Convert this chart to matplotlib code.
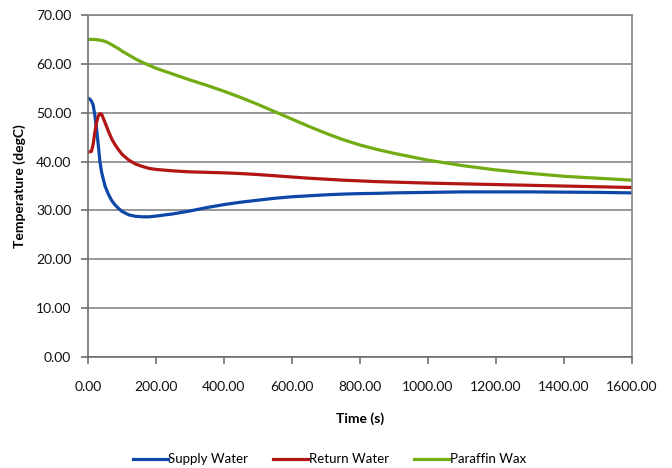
import matplotlib
matplotlib.use("Agg")
import matplotlib.pyplot as plt
from matplotlib.ticker import FormatStrFormatter, MultipleLocator

plt.rcParams['font.family'] = ['Lato', 'DejaVu Sans']

# time stamps (s) and temperatures (degC)
time_s = [0, 5, 10, 15, 20, 25, 30, 35, 40, 50, 60, 70, 80, 90, 100, 120, 140,
          160, 180, 200, 250, 300, 350, 400, 450, 500, 550, 600, 650, 700, 750,
          800, 850, 900, 950, 1000, 1100, 1200, 1300, 1400, 1500, 1600]

supply_water = [53.0, 52.8, 52.4, 51.6, 49.5, 46.8, 43.5, 40.0, 37.8, 35.0,
                33.3, 32.0, 31.1, 30.4, 29.8, 29.1, 28.8, 28.7, 28.7, 28.85,
                29.3, 29.9, 30.6, 31.2, 31.7, 32.1, 32.5, 32.8, 33.0, 33.2,
                33.35, 33.45, 33.5, 33.6, 33.65, 33.7, 33.8, 33.8, 33.8, 33.75,
                33.7, 33.6]

return_water = [42.0, 42.0, 42.1, 43.5, 46.0, 48.0, 49.3, 49.8, 49.7, 48.0,
                46.2, 44.6, 43.4, 42.4, 41.5, 40.3, 39.5, 39.0, 38.6, 38.4,
                38.1, 37.9, 37.8, 37.7, 37.55, 37.35, 37.1, 36.85, 36.6, 36.4,
                36.2, 36.05, 35.9, 35.8, 35.7, 35.6, 35.45, 35.3, 35.15, 35.0,
                34.85, 34.7]

paraffin_wax = [65.0, 65.0, 65.0, 65.0, 65.0, 64.95, 64.9, 64.85, 64.8, 64.6,
                64.3, 63.9, 63.5, 63.1, 62.6, 61.8, 61.0, 60.3, 59.7, 59.1,
                57.9, 56.7, 55.6, 54.4, 53.1, 51.7, 50.2, 48.7, 47.2, 45.8,
                44.5, 43.4, 42.5, 41.7, 41.0, 40.3, 39.2, 38.3, 37.6, 37.0,
                36.6, 36.2]

fig = plt.figure(figsize=(6.72, 4.68), dpi=100)
ax = fig.add_axes([0.131, 0.237, 0.809, 0.731])

ax.plot(time_s, supply_water, color='#0D47A8', lw=2.3, label='Supply Water')
ax.plot(time_s, return_water, color='#B31515', lw=2.3, label='Return Water')
ax.plot(time_s, paraffin_wax, color='#72AC12', lw=2.3, label='Paraffin Wax')

ax.set_xlim(0, 1600)
ax.set_ylim(0, 70)
ax.xaxis.set_major_locator(MultipleLocator(200))
ax.yaxis.set_major_locator(MultipleLocator(10))
ax.xaxis.set_major_formatter(FormatStrFormatter('%.2f'))
ax.yaxis.set_major_formatter(FormatStrFormatter('%.2f'))

ax.grid(axis='y', color='#868686', lw=1.2)
ax.set_axisbelow(True)
for s in ax.spines.values():
    s.set_color('#868686')
    s.set_linewidth(1.2)
ax.spines['left'].set_color('#6e6e6e')
ax.spines['bottom'].set_color('#6e6e6e')

ax.tick_params(axis='both', direction='out', length=5, width=1.2, color='#6e6e6e',
               labelsize=10, labelcolor='#111111')
ax.tick_params(axis='x', pad=12)
ax.tick_params(axis='y', pad=7)

ax.set_xlabel('Time (s)', fontsize=10, fontweight='bold', labelpad=14)
ax.set_ylabel('Temperature (degC)', fontsize=10, fontweight='bold', labelpad=7)

fig.legend(loc='lower center', bbox_to_anchor=(0.49, -0.02), ncol=3, frameon=False,
           fontsize=9.5, handlelength=2.65, handletextpad=0.05, columnspacing=1.9)

fig.savefig('out.png', dpi=100, facecolor='white')
